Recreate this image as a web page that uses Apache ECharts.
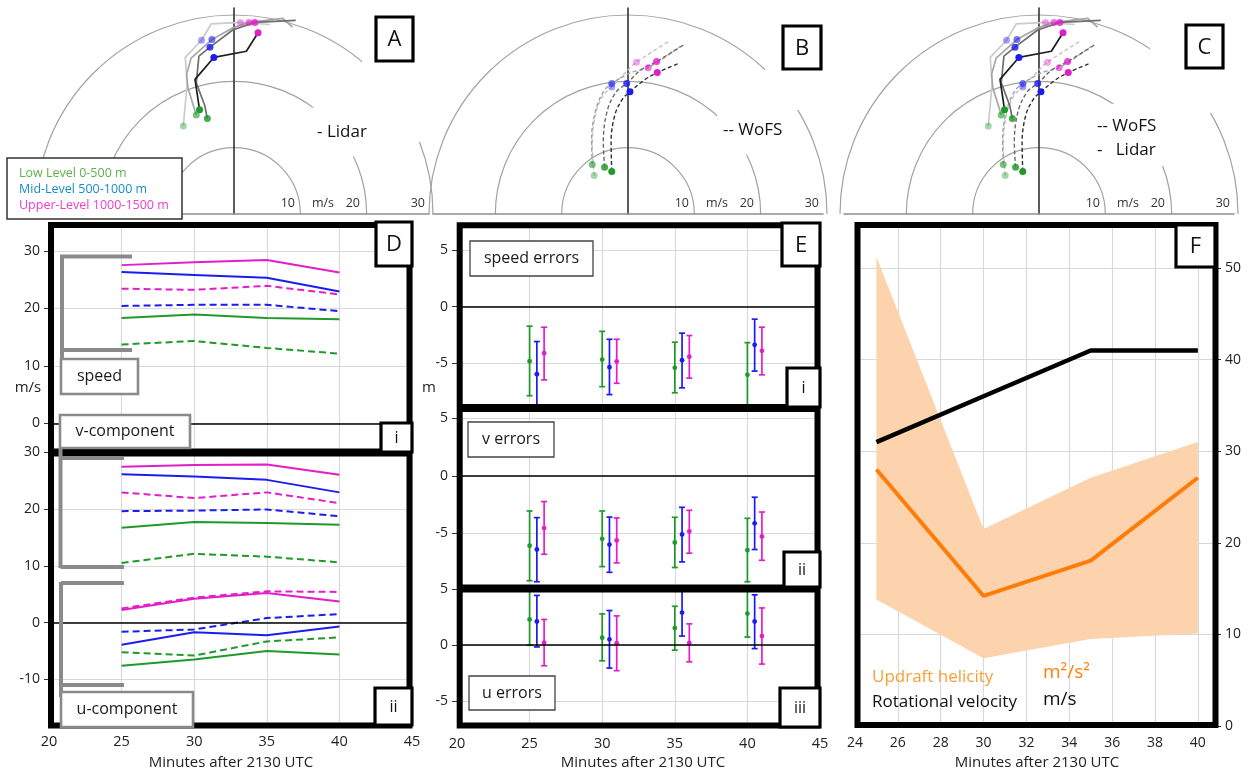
<!DOCTYPE html>
<html>
<head>
<meta charset="utf-8">
<script src="https://cdn.jsdelivr.net/npm/echarts@6/dist/echarts.min.js"></script>
<style>
  html, body { margin: 0; padding: 0; background: #fff; }
  #chart { width: 1251px; height: 776px; }
</style>
</head>
<body>
<div id="chart"></div>
<script>
// 时间 (minutes after 2130 UTC)
var times = [25, 30, 35, 40];

// --- hodograph traces, [u, v] in m/s (A: lidar, B: WoFS, C: both) ---
var lidarTrace25 = [[-7.8, 12.8], [-7.2, 19.0], [-7.5, 22.8], [-5.0, 25.3], [-3.5, 27.7], [1.0, 27.9], [5.5, 27.6]];
var lidarTrace30 = [[-5.8, 14.4], [-7.1, 18.4], [-7.3, 20.3], [-6.6, 22.7], [-3.4, 25.4], [-0.2, 27.1], [2.3, 27.9], [7.5, 28.5], [9.0, 27.2]];
var lidarTrace35 = [[-4.1, 13.9], [-4.5, 15.8], [-5.8, 19.1], [-5.4, 23.0], [-3.7, 24.3], [-0.2, 26.8], [3.2, 27.9], [9.5, 28.2]];
var lidarTrace40 = [[-5.3, 15.2], [-6.0, 19.6], [-3.1, 22.8], [1.9, 23.7], [3.7, 26.4]];
var lidarLow = [[-7.8, 12.8], [-5.8, 14.4], [-4.1, 13.9], [-5.3, 15.2]];
var lidarMid = [[-5.0, 25.3], [-3.4, 25.4], [-3.7, 24.3], [-3.1, 22.8]];
var lidarUpper = [[1.0, 27.9], [2.3, 27.9], [3.2, 27.9], [3.7, 26.4]];

var wofsTrace25 = [[-5.2, 5.6], [-5.5, 10.0], [-5.0, 14.5], [-3.8, 17.3], [-2.5, 18.5], [-0.5, 20.5], [1.3, 22.1], [6.4, 25.2]];
var wofsTrace30 = [[-5.5, 7.2], [-5.6, 11.0], [-5.0, 15.0], [-3.8, 17.8], [-2.5, 19.0], [0.5, 20.6], [3.1, 21.3], [8.0, 24.4]];
var wofsTrace35 = [[-3.6, 6.8], [-3.8, 10.5], [-3.2, 15.0], [-1.8, 17.8], [-0.2, 19.0], [2.0, 21.0], [4.4, 22.2], [8.5, 24.6]];
var wofsTrace40 = [[-2.5, 6.2], [-2.6, 10.5], [-2.0, 14.5], [-0.8, 16.8], [0.3, 17.8], [2.5, 19.5], [4.5, 20.6], [8.0, 22.0]];
var wofsLow = [[-5.2, 5.6], [-5.5, 7.2], [-3.6, 6.8], [-2.5, 6.2]];
var wofsMid = [[-2.5, 18.5], [-2.5, 19.0], [-0.2, 19.0], [0.3, 17.8]];
var wofsUpper = [[1.3, 22.1], [3.1, 21.3], [4.4, 22.2], [4.5, 20.6]];

// --- panel D: speed / v / u (m/s) ---
var speedLidarLow = [18.3, 18.9, 18.3, 18.1];
var speedLidarMid = [26.3, 25.8, 25.3, 22.9];
var speedLidarUpper = [27.5, 28.0, 28.4, 26.2];
var speedWofsLow = [13.7, 14.3, 13.1, 12.1];
var speedWofsMid = [20.4, 20.6, 20.6, 19.5];
var speedWofsUpper = [23.4, 23.2, 23.9, 22.4];
var vLidarLow = [16.7, 17.7, 17.5, 17.2];
var vLidarMid = [26.1, 25.7, 25.1, 22.9];
var vLidarUpper = [27.4, 27.7, 27.8, 26.0];
var vWofsLow = [10.5, 12.1, 11.6, 10.6];
var vWofsMid = [19.6, 19.7, 19.9, 18.7];
var vWofsUpper = [22.9, 21.9, 22.9, 21.0];
var uLidarLow = [-7.6, -6.5, -5.0, -5.6];
var uLidarMid = [-3.9, -1.7, -2.2, -0.7];
var uLidarUpper = [2.2, 4.2, 5.2, 3.7];
var uWofsLow = [-5.2, -5.8, -3.3, -2.6];
var uWofsMid = [-1.6, -1.2, 0.8, 1.5];
var uWofsUpper = [2.5, 4.4, 5.5, 5.4];

// --- panel E: errors [mean, low, high] ---
var speedErrLow = [[-4.84, -7.9, -1.74], [-4.7, -7.1, -2.2], [-5.43, -7.64, -3.16], [-6.05, -9.5, -3.2]];
var speedErrMid = [[-6.0, -9.5, -3.1], [-5.37, -7.8, -2.9], [-4.75, -7.2, -2.36], [-3.39, -5.72, -1.12]];
var speedErrUpper = [[-4.13, -6.5, -1.83], [-4.87, -6.8, -2.9], [-4.45, -6.34, -2.57], [-3.92, -6.05, -1.83]];
var vErrLow = [[-6.1, -9.15, -3.07], [-5.5, -7.92, -3.07], [-5.82, -8.0, -3.62], [-6.49, -9.24, -3.71]];
var vErrMid = [[-6.43, -9.24, -3.65], [-6.0, -8.42, -3.6], [-5.11, -7.51, -2.75], [-4.15, -6.43, -1.87]];
var vErrUpper = [[-4.56, -6.84, -2.25], [-5.64, -7.6, -3.68], [-4.85, -6.75, -3.01], [-5.29, -7.37, -3.16]];
var uErrLow = [[2.3, 0.0, 5.6], [0.67, -1.39, 2.8], [1.53, -0.44, 3.48], [2.83, 0.73, 5.6]];
var uErrMid = [[2.12, -0.15, 4.45], [0.53, -2.04, 3.1], [2.92, 0.82, 5.6], [2.12, -0.3, 4.5]];
var uErrUpper = [[0.23, -1.83, 2.3], [0.18, -2.27, 2.62], [0.2, -1.48, 1.91], [0.82, -1.68, 3.33]];

// --- panel F ---
var rotVelocity = [31.0, 36.0, 41.0, 41.0];
var uhMean = [28.0, 14.2, 18.05, 27.1];
var uhLower = [13.8, 7.4, 9.5, 10.1];
var uhUpper = [51.2, 21.5, 27.1, 31.0];

// ---------------- styling ----------------
var FONT = '"Open Sans", "DejaVu Sans", sans-serif';
var GREEN = '#1f9a2a', BLUE = '#1c1cee', MAGENTA = '#e21ecb';
var lidarShades = ['#cbcbcb', '#a6a6a6', '#6f6f6f', '#1e1e1e'];
var wofsShades = ['#c4c4c4', '#a0a0a0', '#6a6a6a', '#2e2e2e'];
var dotOpacity = [0.4, 0.6, 0.82, 1];
var errOffset = [0, 0.5, 1];
var hodoCenters = [234, 628, 1039];
var BASE_Y = 214;

var grids = [], xAxes = [], yAxes = [], series = [], polars = [], angleAxes = [], radiusAxes = [];

// hodograph grids 0..2
hodoCenters.forEach(function (cx, i) {
    grids.push({ left: cx - 195, top: BASE_Y - 206, width: 390, height: 206, outerBoundsMode: 'none' });
    xAxes.push({
        gridIndex: i, type: 'value', min: -30, max: 30, interval: 10,
        axisLine: { show: true, onZero: false, lineStyle: { color: '#8e8e8e', width: 1.6 } },
        axisTick: { show: false }, splitLine: { show: false },
        axisLabel: {
            inside: true, margin: 4, align: 'right', padding: [0, 4, 0, 0],
            fontFamily: FONT, fontSize: 12.5, color: '#333',
            showMinLabel: true, showMaxLabel: true,
            formatter: function (v) { return v > 0 ? String(v) : ''; }
        }
    });
    yAxes.push({
        gridIndex: i, type: 'value', min: 0, max: 30,
        axisLine: { show: true, onZero: true, lineStyle: { color: '#333', width: 1.6 } },
        axisTick: { show: false }, axisLabel: { show: false }, splitLine: { show: false }
    });
    polars.push({ center: [cx, BASE_Y], radius: 199 });
    angleAxes.push({
        polarIndex: i, startAngle: 180, endAngle: 0, clockwise: true, min: 0, max: 180,
        axisLine: { show: false }, axisTick: { show: false }, axisLabel: { show: false }, splitLine: { show: false }
    });
    radiusAxes.push({
        polarIndex: i, min: 0, max: 30, interval: 10,
        axisLine: { show: false }, axisTick: { show: false }, axisLabel: { show: false },
        splitLine: { show: true, lineStyle: { color: '#a2a2a2', width: 1.2 } }
    });
});

function gridAxisLabel(extra) {
    var o = { fontFamily: FONT, fontSize: 14, color: '#222' };
    for (var k in extra) o[k] = extra[k];
    return o;
}
var splitStyle = { show: true, lineStyle: { color: '#d9d9d9', width: 1.2 } };

// D: grids 3, 4 ; E: 5, 6, 7 ; F: 8
var panelGrids = [
    { left: 49, top: 222, width: 363, height: 230, ymin: -5, ymax: 35, step: 10, showMax: false, xl: false },
    { left: 49, top: 452, width: 363, height: 273, ymin: -18, ymax: 30, step: 10, showMax: true, xl: true },
    { left: 457, top: 223, width: 363, height: 184, ymin: -8.9, ymax: 7.4, step: 5, showMax: false, xl: false },
    { left: 457, top: 407, width: 363, height: 180, ymin: -9.7, ymax: 6.0, step: 5, showMax: false, xl: false },
    { left: 457, top: 587, width: 363, height: 140, ymin: -7.3, ymax: 5.2, step: 5, showMax: false, xl: true }
];
panelGrids.forEach(function (g, j) {
    var gi = 3 + j;
    grids.push({ left: g.left, top: g.top, width: g.width, height: g.height, outerBoundsMode: 'none' });
    xAxes.push({
        gridIndex: gi, type: 'value', min: 20, max: 45, interval: 5,
        axisLine: { show: false }, axisTick: { show: false }, splitLine: splitStyle,
        axisLabel: gridAxisLabel({ show: g.xl, margin: 9, fontSize: 14.5 })
    });
    yAxes.push({
        gridIndex: gi, type: 'value', min: g.ymin, max: g.ymax, minInterval: g.step, maxInterval: g.step,
        axisLine: { show: false }, axisTick: { show: true, length: 5, lineStyle: { color: '#333' } },
        splitLine: splitStyle,
        axisLabel: gridAxisLabel({ margin: 9, showMinLabel: false, showMaxLabel: g.showMax })
    });
});
grids.push({ left: 855, top: 225, width: 360, height: 501, outerBoundsMode: 'none' });
xAxes.push({
    gridIndex: 8, type: 'value', min: 24, max: 40.8, interval: 2,
    axisLine: { show: false }, axisTick: { show: false }, splitLine: splitStyle,
    axisLabel: gridAxisLabel({ margin: 10, showMaxLabel: false })
});
yAxes.push({
    gridIndex: 8, type: 'value', position: 'right', min: 0, max: 54.7, interval: 10,
    axisLine: { show: false }, axisTick: { show: true, length: 6, lineStyle: { color: '#333' } },
    splitLine: splitStyle,
    axisLabel: gridAxisLabel({ margin: 10, showMaxLabel: false })
});

// ---------- hodograph series ----------
function traceSeries(grid, trace, color, dashed) {
    return {
        type: 'line', xAxisIndex: grid, yAxisIndex: grid, data: trace, symbol: 'none',
        smooth: dashed ? 0.35 : false, z: 3, silent: true,
        lineStyle: { color: color, width: dashed ? 1.4 : 1.7, type: dashed ? [4, 2.5] : 'solid' }
    };
}
function dotSeries(grid, dots, color) {
    return {
        type: 'scatter', xAxisIndex: grid, yAxisIndex: grid, symbolSize: 7, z: 5, silent: true,
        data: dots.map(function (p, i) { return { value: p, itemStyle: { color: color, opacity: dotOpacity[i] } }; })
    };
}
var lidarTraces = [lidarTrace25, lidarTrace30, lidarTrace35, lidarTrace40];
var wofsTraces = [wofsTrace25, wofsTrace30, wofsTrace35, wofsTrace40];
function addLidar(grid) {
    lidarTraces.forEach(function (t, i) { series.push(traceSeries(grid, t, lidarShades[i], false)); });
    series.push(dotSeries(grid, lidarLow, GREEN), dotSeries(grid, lidarMid, BLUE), dotSeries(grid, lidarUpper, MAGENTA));
}
function addWofs(grid) {
    wofsTraces.forEach(function (t, i) { series.push(traceSeries(grid, t, wofsShades[i], true)); });
    series.push(dotSeries(grid, wofsLow, GREEN), dotSeries(grid, wofsMid, BLUE), dotSeries(grid, wofsUpper, MAGENTA));
}
addLidar(0);
addWofs(1);
addWofs(2);
addLidar(2);

// ---------- panel D ----------
var zeroLine = { silent: true, symbol: 'none', label: { show: false },
    lineStyle: { color: '#000', width: 1.6, type: 'solid' }, data: [{ yAxis: 0 }] };
function dLine(grid, vals, color, dashed, mark) {
    var s = {
        type: 'line', xAxisIndex: grid, yAxisIndex: grid, symbol: 'none', silent: true, z: 3,
        data: times.map(function (t, i) { return [t, vals[i]]; }),
        lineStyle: { color: color, width: 2, type: dashed ? [7, 4] : 'solid' }
    };
    if (mark) s.markLine = zeroLine;
    return s;
}
series.push(
    dLine(3, speedLidarUpper, MAGENTA, false, true), dLine(3, speedLidarMid, BLUE, false),
    dLine(3, speedLidarLow, GREEN, false), dLine(3, speedWofsUpper, MAGENTA, true),
    dLine(3, speedWofsMid, BLUE, true), dLine(3, speedWofsLow, GREEN, true),
    dLine(4, vLidarUpper, MAGENTA, false, true), dLine(4, vLidarMid, BLUE, false),
    dLine(4, vLidarLow, GREEN, false), dLine(4, vWofsUpper, MAGENTA, true),
    dLine(4, vWofsMid, BLUE, true), dLine(4, vWofsLow, GREEN, true),
    dLine(4, uLidarUpper, MAGENTA, false), dLine(4, uLidarMid, BLUE, false),
    dLine(4, uLidarLow, GREEN, false), dLine(4, uWofsUpper, MAGENTA, true),
    dLine(4, uWofsMid, BLUE, true), dLine(4, uWofsLow, GREEN, true)
);

// ---------- panel E: error bars ----------
function errorBarItem(params, api) {
    var cs = params.coordSys;
    var top = cs.y + 3, bottom = cs.y + cs.height - 3;
    var x = api.value(0);
    var pc = api.coord([x, api.value(1)]);
    var pl = api.coord([x, api.value(2)]);
    var ph = api.coord([x, api.value(3)]);
    var color = api.visual('color');
    var style = { stroke: color, lineWidth: 1.7, fill: null };
    var yl = Math.min(pl[1], bottom), yh = Math.max(ph[1], top);
    var kids = [{ type: 'line', shape: { x1: pc[0], y1: yl, x2: pc[0], y2: yh }, style: style }];
    if (pl[1] <= bottom) kids.push({ type: 'line', shape: { x1: pc[0] - 3, y1: pl[1], x2: pc[0] + 3, y2: pl[1] }, style: style });
    if (ph[1] >= top) kids.push({ type: 'line', shape: { x1: pc[0] - 3, y1: ph[1], x2: pc[0] + 3, y2: ph[1] }, style: style });
    kids.push({ type: 'circle', shape: { cx: pc[0], cy: pc[1], r: 2.4 }, style: { fill: color } });
    return { type: 'group', children: kids };
}
function errSeries(grid, rows, level, color) {
    return {
        type: 'custom', xAxisIndex: grid, yAxisIndex: grid, silent: true, z: 3,
        itemStyle: { color: color }, renderItem: errorBarItem,
        encode: { x: 0, y: [1, 2, 3] },
        data: rows.map(function (r, i) { return [times[i] + errOffset[level], r[0], r[1], r[2]]; })
    };
}
function eZero(grid) {
    return { type: 'line', xAxisIndex: grid, yAxisIndex: grid, data: [], markLine: zeroLine, silent: true };
}
series.push(
    eZero(5), eZero(6), eZero(7),
    errSeries(5, speedErrLow, 0, GREEN), errSeries(5, speedErrMid, 1, BLUE), errSeries(5, speedErrUpper, 2, MAGENTA),
    errSeries(6, vErrLow, 0, GREEN), errSeries(6, vErrMid, 1, BLUE), errSeries(6, vErrUpper, 2, MAGENTA),
    errSeries(7, uErrLow, 0, GREEN), errSeries(7, uErrMid, 1, BLUE), errSeries(7, uErrUpper, 2, MAGENTA)
);

// ---------- panel F ----------
function bandItem(params, api) {
    if (params.dataIndexInside !== 0) return null;
    var n = params.dataInsideLength, upper = [], lower = [];
    for (var i = 0; i < n; i++) {
        upper.push(api.coord([api.value(0, i), api.value(2, i)]));
        lower.unshift(api.coord([api.value(0, i), api.value(1, i)]));
    }
    return { type: 'polygon', shape: { points: upper.concat(lower) }, style: { fill: '#fdd3ad' } };
}
series.push(
    { type: 'custom', xAxisIndex: 8, yAxisIndex: 8, silent: true, z: 1, renderItem: bandItem,
      encode: { x: 0, y: [1, 2] },
      data: times.map(function (t, i) { return [t, uhLower[i], uhUpper[i]]; }) },
    { type: 'line', xAxisIndex: 8, yAxisIndex: 8, symbol: 'none', silent: true, z: 3,
      lineStyle: { color: '#ff7c0a', width: 4 },
      data: times.map(function (t, i) { return [t, uhMean[i]]; }) },
    { type: 'line', xAxisIndex: 8, yAxisIndex: 8, symbol: 'none', silent: true, z: 4,
      lineStyle: { color: '#000', width: 4.5 },
      data: times.map(function (t, i) { return [t, rotVelocity[i]]; }) }
);

// ---------- annotations ----------
var els = [];
function txt(x, y, s, size, color, align, extra) {
    var st = { text: s, x: 0, y: 0, fill: color || '#222', font: size + 'px ' + FONT,
        fontSize: size, fontFamily: FONT,
        align: align || 'left', textAlign: align || 'left', verticalAlign: 'middle', textVerticalAlign: 'middle' };
    if (extra) for (var k in extra) st[k] = extra[k];
    els.push({ type: 'text', x: x, y: y, z: 120, silent: true, style: st });
}
function rect(x, y, w, h, stroke, lw, z, fill) {
    els.push({ type: 'rect', z: z || 110, silent: true, shape: { x: x, y: y, width: w, height: h },
        style: { fill: fill === undefined ? '#fff' : fill, stroke: stroke || null, lineWidth: lw || 0 } });
}
function frame(x1, y1, x2, y2, seps) {
    rect(x1, y1, x2 - x1, y2 - y1, '#000', 6, 100, null);
    (seps || []).forEach(function (y) {
        els.push({ type: 'line', z: 100, silent: true, shape: { x1: x1, y1: y, x2: x2, y2: y },
            style: { stroke: '#000', lineWidth: 8 } });
    });
}
function letterBox(x, y, w, h, s, size) {
    rect(x, y, w, h, '#000', 3.2);
    txt(x + w / 2, y + h / 2 + 1, s, size, '#111', 'center');
}
function labelBox(x, y, w, h, s, stroke, lw) {
    rect(x, y, w, h, stroke, lw);
    txt(x + w / 2, y + h / 2, s, 16, '#1a1a1a', 'center');
}
function poly(points, color, width) {
    els.push({ type: 'polyline', z: 105, silent: true, shape: { points: points },
        style: { stroke: color, lineWidth: width, fill: null } });
}

// frames
frame(51, 225, 409.5, 725.5, [452.5]);
frame(459.7, 225.3, 817.5, 725.5, [408, 588.5]);
frame(857.5, 225, 1215.5, 725);

// hodograph patches behind letter boxes, text labels
rect(362, 12, 62, 130, null, 0, 60);
rect(765, 18, 66, 92, null, 0, 60);
rect(1150, 18, 92, 95, null, 0, 60);
letterBox(376, 17, 37, 44, 'A', 22);
letterBox(783, 26, 38, 43, 'B', 22);
letterBox(1186, 25, 37, 43, 'C', 22);
hodoCenters.forEach(function (cx) { txt(cx + 89, 203, 'm/s', 12.5, '#333', 'center'); });
txt(311, 132, '- Lidar', 17, '#111', 'left', { backgroundColor: '#fff', padding: [16, 6] });
txt(717, 130, '-- WoFS', 17, '#111', 'left', { backgroundColor: '#fff', padding: [16, 6] });
rect(1088, 104, 76, 62, null, 0, 110);
txt(1097, 126, '-- WoFS', 17, '#111', 'left');
txt(1097, 150, '-   Lidar', 17, '#111', 'left');

// legend
rect(7, 158, 175, 61, '#333', 1.5);
txt(19, 173, 'Low Level 0-500 m', 12.5, '#5cb34a');
txt(19, 189, 'Mid-Level 500-1000 m', 12.5, '#168bcb');
txt(19, 205, 'Upper-Level 1000-1500 m', 12.5, '#f03ccf');

// panel D
letterBox(376, 222, 36, 44, 'D', 22);
letterBox(381, 423, 31, 29, 'i', 16);
letterBox(375, 688, 37, 37, 'ii', 16);
poly([[132, 256.5], [62, 256.5], [62, 359]], '#8a8a8a', 4);
poly([[62, 350], [132, 350]], '#8a8a8a', 4);
poly([[60.5, 448], [60.5, 568]], '#8a8a8a', 4);
poly([[60.5, 458], [124, 458]], '#8a8a8a', 4);
poly([[60.5, 567], [124, 567]], '#8a8a8a', 4);
poly([[61, 582], [61, 697]], '#8a8a8a', 4);
poly([[61, 583], [124, 583]], '#8a8a8a', 4);
poly([[61, 685], [124, 685]], '#8a8a8a', 4);
labelBox(61, 359, 77, 35, 'speed', '#8a8a8a', 2.6);
labelBox(60, 415, 130, 33, 'v-component', '#8a8a8a', 2.6);
labelBox(61, 692, 132, 35, 'u-component', '#8a8a8a', 2.6);
txt(28, 388, 'm/s', 15, '#222', 'center');
txt(231, 763, 'Minutes after 2130 UTC', 15, '#222', 'center');

// panel E
letterBox(782, 223, 38, 43, 'E', 22);
letterBox(787, 368, 33, 39, 'i', 16);
letterBox(784, 552, 36, 35, 'ii', 16);
letterBox(780, 688, 40, 39, 'iii', 16);
labelBox(470, 241, 123, 35, 'speed errors', '#444', 1.3);
labelBox(468, 422, 86, 35, 'v errors', '#444', 1.3);
labelBox(469, 676, 86, 34, 'u errors', '#444', 1.3);
txt(422, 388, 'm', 15, '#222', 'left');
txt(643, 763, 'Minutes after 2130 UTC', 15, '#222', 'center');

// panel F
letterBox(1176, 225, 39, 42, 'F', 22);
txt(872, 677, 'Updraft helicity', 17, '#f7a035');
txt(872, 702, 'Rotational velocity', 17, '#111');
txt(1043, 673, 'm\u00b2/s\u00b2', 19, '#ff7f0e');
txt(1043, 700, 'm/s', 19, '#111');
txt(1037, 763, 'Minutes after 2130 UTC', 15, '#222', 'center');

var option = {
    animation: false,
    backgroundColor: '#fff',
    grid: grids,
    xAxis: xAxes,
    yAxis: yAxes,
    polar: polars,
    angleAxis: angleAxes,
    radiusAxis: radiusAxes,
    series: series,
    graphic: { elements: els }
};

var myChart = echarts.init(document.getElementById('chart'), null, { renderer: 'canvas' });
myChart.setOption(option);
</script>
</body>
</html>
